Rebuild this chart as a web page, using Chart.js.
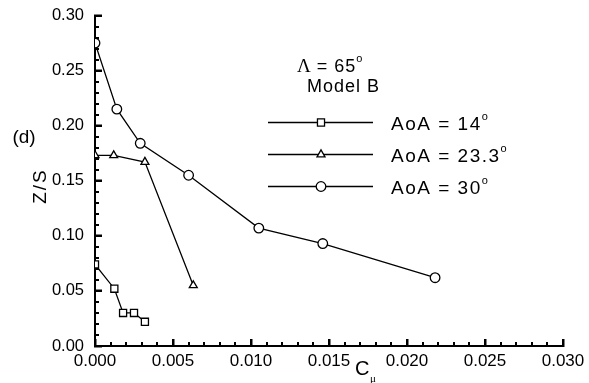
<!DOCTYPE html>
<html>
<head>
<meta charset="utf-8">
<script src="https://cdn.jsdelivr.net/npm/chart.js@4/dist/chart.umd.min.js"></script>
<style>
  html, body { margin: 0; padding: 0; background: #fff; }
  #wrap { width: 589px; height: 383px; }
</style>
</head>
<body>
<div id="wrap"><canvas id="c" width="589" height="383"></canvas></div>
<script>
// Tick values
const xTicks = [0, 0.005, 0.010, 0.015, 0.020, 0.025, 0.030];
const yTicks = [0, 0.05, 0.10, 0.15, 0.20, 0.25, 0.30];

// AoA = 14 deg
const aoa14Cmu = [0, 0.00124, 0.0018, 0.0025, 0.0032];
const aoa14ZS  = [0.074, 0.052, 0.030, 0.030, 0.022];
// AoA = 23.3 deg
const aoa23Cmu = [0, 0.0012, 0.0032, 0.0063];
const aoa23ZS  = [0.173, 0.173, 0.167, 0.055];
// AoA = 30 deg
const aoa30Cmu = [0, 0.0014, 0.0029, 0.0060, 0.0105, 0.0146, 0.0218];
const aoa30ZS  = [0.275, 0.215, 0.184, 0.155, 0.107, 0.093, 0.062];

const seriesNames = ['AoA = 14', 'AoA = 23.3', 'AoA = 30'];

const FONT = '"Liberation Sans", Arial, Helvetica, sans-serif';

function pts(xs, ys) { return xs.map((x, i) => ({ x: x, y: ys[i] })); }

function series(label, xs, ys, shape, r) {
  return {
    label: label,
    data: pts(xs, ys),
    showLine: true,
    borderColor: '#000',
    borderWidth: 1.3,
    pointStyle: shape,
    pointRadius: r,
    pointHoverRadius: r,
    pointBackgroundColor: '#fff',
    pointBorderColor: '#000',
    pointBorderWidth: 1.3,
    tension: 0
  };
}

function marker(ctx, shape, x, y, r) {
  ctx.beginPath();
  if (shape === 'rect') {
    const s = Math.SQRT1_2 * r;
    ctx.rect(x - s, y - s, 2 * s, 2 * s);
  } else if (shape === 'triangle') {
    ctx.moveTo(x, y - r);
    ctx.lineTo(x + r * Math.sin(Math.PI / 3), y + r / 2);
    ctx.lineTo(x - r * Math.sin(Math.PI / 3), y + r / 2);
    ctx.closePath();
  } else {
    ctx.arc(x, y, r, 0, Math.PI * 2);
  }
  ctx.fillStyle = '#fff';
  ctx.fill();
  ctx.stroke();
}

// text followed by a small raised "o" (degree mark)
function degText(ctx, txt, x, y, size, spacing) {
  ctx.letterSpacing = spacing + 'px';
  ctx.font = size + 'px ' + FONT;
  ctx.textAlign = 'left';
  ctx.textBaseline = 'middle';
  ctx.fillText(txt, x, y);
  const w = ctx.measureText(txt).width;
  ctx.letterSpacing = '0px';
  ctx.font = Math.round(size * 0.6) + 'px ' + FONT;
  ctx.fillText('o', x + w, y - size * 0.42);
}

const decorations = {
  id: 'decorations',
  afterDraw(chart) {
    const ctx = chart.ctx;
    const xs = chart.scales.x, ys = chart.scales.y;
    ctx.save();
    ctx.strokeStyle = '#000';
    ctx.fillStyle = '#000';

    // panel tag
    ctx.font = '19px ' + FONT;
    ctx.textAlign = 'center';
    ctx.textBaseline = 'middle';
    ctx.fillText('(d)', 24, 138);

    // y title
    ctx.save();
    ctx.translate(41, 187);
    ctx.rotate(-Math.PI / 2);
    ctx.letterSpacing = '2px';
    ctx.font = '19px ' + FONT;
    ctx.fillText('Z/S', 1, 0);
    ctx.restore();
    ctx.letterSpacing = '0px';

    // x title C_mu
    ctx.font = '20px ' + FONT;
    ctx.textAlign = 'left';
    ctx.textBaseline = 'alphabetic';
    ctx.fillText('C', 355, 375);
    ctx.font = '11px "Liberation Serif", "DejaVu Serif", serif';
    ctx.fillText('\u03bc', 370, 382);

    // header
    ctx.font = '19px "Liberation Serif", "DejaVu Serif", serif';
    ctx.textBaseline = 'middle';
    ctx.textAlign = 'left';
    ctx.fillText('\u039b', 297, 67);
    const lw = ctx.measureText('\u039b').width;
    degText(ctx, ' = 65', 297 + lw, 67, 18, 1);
    ctx.letterSpacing = '1px';
    ctx.font = '18px ' + FONT;
    ctx.textAlign = 'left';
    ctx.fillText('Model B', 307, 87);
    ctx.letterSpacing = '0px';

    // legend rows
    const rows = [122, 154, 186];
    chart.data.datasets.forEach((ds, i) => {
      const y = rows[i] + 0.5;
      ctx.strokeStyle = '#000';
      ctx.lineWidth = 1.3;
      ctx.beginPath();
      ctx.moveTo(268, y);
      ctx.lineTo(373, y);
      ctx.stroke();
      marker(ctx, ds.pointStyle, 321, y, ds.pointRadius);
      ctx.fillStyle = '#000';
      degText(ctx, seriesNames[i], 391, rows[i] + 3, 19, 1.5);
    });

    // inward major / minor tick marks, drawn last
    ctx.fillStyle = '#000';
    const bottom = Math.round(ys.getPixelForValue(0));
    const left = Math.round(xs.getPixelForValue(0));
    for (let i = 0; i <= 30; i++) {
      const px = Math.round(xs.getPixelForValue(i / 1000));
      const len = (i % 5 === 0) ? 7 : 4;
      ctx.fillRect(px - 1, bottom - len, 2, len);
    }
    for (let i = 0; i <= 30; i++) {
      const py = Math.round(ys.getPixelForValue(i / 100));
      const len = (i % 5 === 0) ? 7 : 4;
      ctx.fillRect(left, py - 1, len, 2);
    }
    ctx.restore();
  }
};

new Chart(document.getElementById('c'), {
  type: 'scatter',
  data: {
    datasets: [
      series(seriesNames[0], aoa14Cmu, aoa14ZS, 'rect', 5),
      series(seriesNames[1], aoa23Cmu, aoa23ZS, 'triangle', 4.6),
      series(seriesNames[2], aoa30Cmu, aoa30ZS, 'circle', 4.8)
    ]
  },
  options: {
    responsive: false,
    animation: false,
    layout: { padding: { left: 0, top: 15.5, right: 26, bottom: 0 } },
    plugins: { legend: { display: false }, tooltip: { enabled: false } },
    scales: {
      x: {
        type: 'linear',
        min: 0, max: 0.03,
        afterFit(s) { s.height = 37; s.paddingLeft = 0; s.paddingRight = 0; },
        afterBuildTicks(s) { s.ticks = xTicks.map(v => ({ value: v })); },
        ticks: {
          color: '#000',
          font: { family: FONT, size: 17 },
          padding: 12,
          maxRotation: 0,
          callback: v => Number(v).toFixed(3)
        },
        grid: { display: true, drawOnChartArea: false, drawTicks: true, tickLength: -7, tickWidth: 2, tickColor: '#000' },
        border: { display: true, color: '#000', width: 2 }
      },
      y: {
        type: 'linear',
        min: 0, max: 0.30,
        afterFit(s) { s.width = 95; s.paddingTop = 0; s.paddingBottom = 0; },
        afterBuildTicks(s) { s.ticks = yTicks.map(v => ({ value: v })); },
        ticks: {
          color: '#000',
          font: { family: FONT, size: 16.5 },
          padding: 18,
          callback: v => Number(v).toFixed(2)
        },
        grid: { display: true, drawOnChartArea: false, drawTicks: true, tickLength: -7, tickWidth: 2, tickColor: '#000' },
        border: { display: true, color: '#000', width: 2 }
      }
    }
  },
  plugins: [decorations]
});
</script>
</body>
</html>
